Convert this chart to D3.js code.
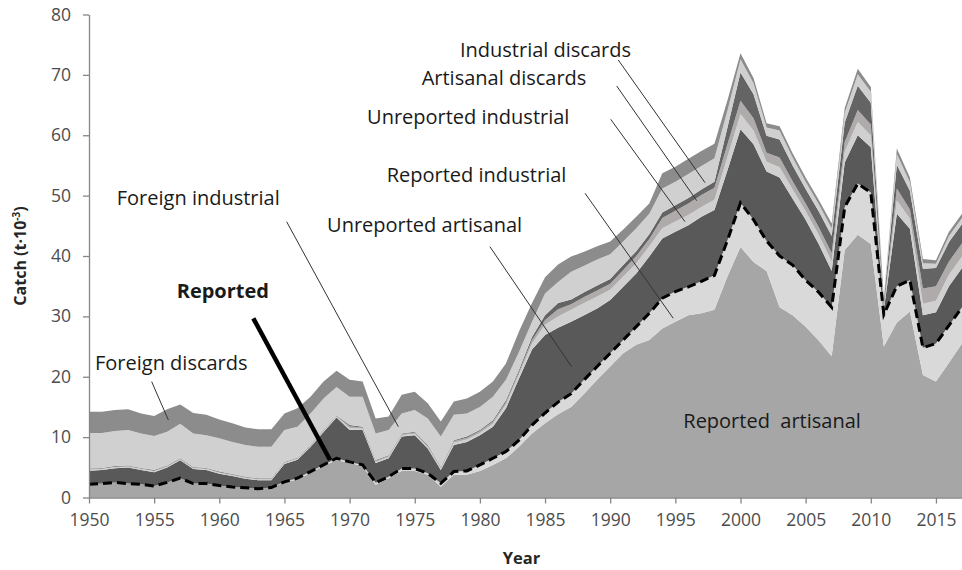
<!DOCTYPE html>
<html>
<head>
<meta charset="utf-8">
<script src="https://cdn.jsdelivr.net/npm/d3@7"></script>
<style>
  body { margin: 0; background: #fff; }
  text { font-family: 'Open Sans', Lato, sans-serif; }
</style>
</head>
<body>
<script>
// catch reconstruction 1950-2017, t x 10^3
var years = [1950,1951,1952,1953,1954,1955,1956,1957,1958,1959,
  1960,1961,1962,1963,1964,1965,1966,1967,1968,1969,
  1970,1971,1972,1973,1974,1975,1976,1977,1978,1979,
  1980,1981,1982,1983,1984,1985,1986,1987,1988,1989,
  1990,1991,1992,1993,1994,1995,1996,1997,1998,1999,
  2000,2001,2002,2003,2004,2005,2006,2007,2008,2009,
  2010,2011,2012,2013,2014,2015,2016,2017];

var reportedArtisanal = [2.2,2.3,2.5,2.3,2.2,1.9,2.5,3.2,2.3,2.3,
  2.0,1.75,1.6,1.45,1.65,2.5,3.0,4.1,5.2,6.2,
  5.7,5.2,2.1,3.2,4.4,4.4,3.75,1.8,3.75,3.75,
  4.4,5.4,6.5,8.4,10.6,12.3,13.8,15.0,17.2,19.5,
  21.7,23.9,25.3,26.1,28.0,29.1,30.2,30.5,31.1,36.6,
  41.5,39.0,37.5,31.5,30.2,28.3,26.0,23.4,41.0,43.5,
  42.0,25.0,29.0,30.8,20.3,19.2,22.3,25.5];

var reportedIndustrial = [0,0,0,0,0,0,0,0,0,0,
  0,0,0,0,0,0.1,0.2,0.2,0.2,0.3,
  0.2,0.2,0.35,0.25,0.4,0.4,0.25,0.55,0.55,0.65,
  1.0,1.1,1.1,1.1,1.4,1.7,2.0,2.2,2.3,2.2,
  2.2,2.2,3.0,4.4,5.0,5.0,4.7,5.3,5.7,6.0,
  7.3,7.0,5.0,8.5,8.3,7.7,8.0,8.1,7.1,8.5,
  8.5,5.3,6.0,5.2,4.5,6.3,6.2,6.0];

var unreportedArtisanal = [2.25,2.25,2.35,2.65,2.35,2.3,2.45,2.95,2.4,2.25,
  1.95,1.8,1.5,1.4,1.2,2.95,3.05,4.05,5.45,6.75,
  5.3,5.8,3.25,3.05,5.3,5.5,4.1,2.2,4.4,4.8,
  4.9,5.2,7.2,10.2,12.5,12.9,12.3,11.9,10.7,9.6,
  8.8,8.8,8.8,9.4,9.9,9.9,10.2,10.7,10.8,11.6,
  12.2,12.5,11.5,13.0,11.0,10.0,8.0,6.0,7.4,8.0,
  7.5,0.7,12.0,8.5,5.4,5.2,6.5,6.5];

var unreportedIndustrial = [0.15,0.15,0.15,0.15,0.15,0.15,0.15,0.15,0.15,0.15,
  0.15,0.15,0.15,0.15,0.15,0.15,0.15,0.15,0.15,0.15,
  0.3,0.2,0.2,0.2,0.2,0.25,0.25,0.25,0.35,0.4,
  0.4,0.5,0.6,0.7,1.0,1.7,1.9,2.0,2.0,2.0,
  1.7,1.7,1.7,1.7,1.7,1.7,1.7,1.6,1.7,2.2,
  2.5,2.3,1.6,1.7,1.5,1.4,1.5,1.6,1.8,2.2,
  2.0,0.4,2.2,1.7,1.9,1.9,1.9,1.9];

var artisanalDiscards = [0.1,0.1,0.1,0.1,0.1,0.1,0.1,0.1,0.1,0.1,
  0.1,0.1,0.1,0.1,0.1,0.1,0.1,0.1,0.1,0.1,
  0.3,0.2,0.2,0.2,0.2,0.2,0.2,0.2,0.3,0.3,
  0.3,0.4,0.4,0.4,0.6,0.8,1.2,0.9,1.0,1.0,
  1.0,1.1,1.2,1.2,1.7,1.8,1.9,2.0,2.0,2.1,
  2.2,2.0,1.5,1.6,1.4,1.3,1.3,1.4,1.6,2.0,
  1.8,0.4,2.0,1.5,2.5,2.4,2.2,2.2];

var industrialDiscards = [0.1,0.1,0.1,0.1,0.1,0.1,0.1,0.1,0.1,0.1,
  0.1,0.1,0.1,0.1,0.1,0.1,0.1,0.1,0.1,0.1,
  0.2,0.1,0.1,0.1,0.1,0.15,0.15,0.1,0.15,0.2,
  0.2,0.2,0.3,0.3,0.5,0.8,1.0,0.8,0.8,0.8,
  0.8,0.8,0.8,0.8,0.9,0.9,0.9,0.9,1.0,2.8,
  4.7,4.0,2.8,3.0,2.6,2.4,2.6,2.8,3.2,4.0,
  3.6,0.7,3.9,3.1,3.3,3.0,3.2,3.2];

var foreignIndustrial = [5.9,5.8,5.8,5.9,5.7,5.65,5.6,5.7,5.55,5.4,
  5.5,5.3,5.25,5.2,5.2,5.3,5.1,5.2,5.2,4.7,
  4.7,5.0,4.4,4.2,3.3,3.6,4.4,5.0,4.2,3.8,
  3.8,3.9,3.4,3.0,2.5,3.6,3.5,4.6,4.4,4.3,
  4.1,3.9,3.8,3.4,4.0,3.9,4.0,3.9,3.9,2.8,
  2.2,1.8,1.4,1.5,1.3,1.2,1.2,1.3,1.6,1.9,
  1.8,0.3,1.8,1.4,0.9,0.7,1.0,1.0];

var foreignDiscards = [3.5,3.5,3.5,3.4,3.3,3.3,3.7,3.2,3.4,3.4,
  3.1,3.1,2.9,2.9,2.9,2.7,3.1,2.8,2.8,2.7,
  2.8,2.5,2.5,2.2,3.1,3.0,2.5,2.5,2.2,2.5,
  2.5,2.5,2.7,3.4,3.1,2.7,2.9,2.5,2.3,2.2,
  2.1,2.0,1.9,1.7,2.5,2.5,2.5,2.5,2.4,1.7,
  1.0,0.9,0.7,0.7,0.7,0.7,0.7,0.8,0.8,0.9,
  0.8,0.2,0.9,0.8,0.7,0.6,0.7,0.7];

var xTicks = [1950,1955,1960,1965,1970,1975,1980,1985,1990,1995,2000,2005,2010,2015];
var yTicks = [0,10,20,30,40,50,60,70,80];

// labels placed in data units (year, catch)
var labelText = ['Industrial discards','Artisanal discards','Unreported industrial','Reported industrial',
  'Unreported artisanal','Foreign industrial','Reported','Foreign discards','Reported  artisanal'];
var labelYear = [1978.47,1975.53,1971.34,1972.85,1968.27,1952.13,1956.73,1950.46,1995.61];
var labelValue = [73.0,68.3,61.9,52.3,44.0,48.4,33.0,21.1,11.46];
var labelBold = [false,false,false,false,false,false,true,false,false];

// leader lines: year1, value1, year2, value2
var pointers = [
  [1990.62,72.46,1997.28,52.14],
  [1990.50,68.16,1996.64,49.16],
  [1990.04,62.64,1995.74,45.68],
  [1988.07,50.39,1994.84,29.68],
  [1980.77,41.54,1987.04,21.66],
  [1965.17,45.68,1973.74,11.73],
  [1954.81,19.18,1956.09,12.84]
];
var reportedPointer = [1962.61,29.68,1968.50,6.21];

var keys = ['ra','ri','ua','ui','ad','id','fi','fd'];
var colors = {ra:'#a6a6a6', ri:'#d9d9d9', ua:'#595959', ui:'#d0d0d0',
  ad:'#afabab', id:'#646464', fi:'#d0d0d0', fd:'#8c8c8c'};

var table = years.map(function(y, i){
  return {year: y, ra: reportedArtisanal[i], ri: reportedIndustrial[i],
    ua: unreportedArtisanal[i], ui: unreportedIndustrial[i], ad: artisanalDiscards[i],
    id: industrialDiscards[i], fi: foreignIndustrial[i], fd: foreignDiscards[i]};
});

var margin = {top: 14.5, right: 0, bottom: 72.5, left: 89},
  width = 962 - margin.left - margin.right,
  height = 570 - margin.top - margin.bottom;

var svg = d3.select("body").append("svg")
  .attr("width", 962)
  .attr("height", 570);

var g = svg.append("g")
  .attr("transform", "translate(" + margin.left + "," + margin.top + ")");

var xScale = d3.scaleLinear().domain([1950, 2017]).range([0, width]);
var yScale = d3.scaleLinear().domain([0, 80]).range([height, 0]);

var series = d3.stack().keys(keys)(table);

var area = d3.area()
  .x(function(d){ return xScale(d.data.year); })
  .y0(function(d){ return yScale(d[0]); })
  .y1(function(d){ return yScale(d[1]); });

g.selectAll('.layer')
  .data(series)
  .enter().append('path')
  .attr('class', 'layer')
  .attr('d', area)
  .attr('fill', function(d){ return colors[d.key]; });

// reported total = reported artisanal + reported industrial
var reportedLine = d3.line()
  .x(function(d){ return xScale(d.year); })
  .y(function(d){ return yScale(d.ra + d.ri); });

g.append('path')
  .datum(table)
  .attr('d', reportedLine)
  .attr('fill', 'none')
  .attr('stroke', '#000')
  .attr('stroke-width', 3)
  .attr('stroke-dasharray', '9,5');

// axes
var xAxis = g.append('g')
  .attr('transform', 'translate(0,' + height + ')')
  .call(d3.axisBottom(xScale).tickValues(xTicks).tickFormat(d3.format('d'))
    .tickSize(6).tickSizeOuter(0).tickPadding(10));

var yAxis = g.append('g')
  .call(d3.axisLeft(yScale).tickValues(yTicks).tickSize(6).tickSizeOuter(0).tickPadding(12));

[xAxis, yAxis].forEach(function(ax){
  ax.select('.domain').attr('stroke', '#868686').attr('stroke-width', 1.3);
  ax.selectAll('.tick line').attr('stroke', '#868686').attr('stroke-width', 1.3);
  ax.selectAll('.tick text')
    .attr('fill', '#4d4d4d')
    .style('font-family', "'Open Sans', sans-serif")
    .style('font-size', '17.5px');
});

svg.append('text')
  .text('Year')
  .attr('x', margin.left + width / 2 - 4)
  .attr('y', 564)
  .style('text-anchor', 'middle')
  .style('font-weight', 'bold')
  .style('font-size', '16.5px')
  .attr('fill', '#262626');

var ytitle = svg.append('text')
  .attr('transform', 'translate(26,256) rotate(-90)')
  .style('text-anchor', 'middle')
  .style('font-weight', 'bold')
  .style('font-size', '16px')
  .attr('fill', '#262626');
ytitle.append('tspan').text('Catch (t\u00b710');
ytitle.append('tspan').text('-3').attr('dy', -6).style('font-size', '10px');
ytitle.append('tspan').text(')').attr('dy', 6);

// leader lines
g.selectAll('.pointer')
  .data(pointers)
  .enter().append('line')
  .attr('class', 'pointer')
  .attr('x1', function(d){ return xScale(d[0]); })
  .attr('y1', function(d){ return yScale(d[1]); })
  .attr('x2', function(d){ return xScale(d[2]); })
  .attr('y2', function(d){ return yScale(d[3]); })
  .attr('stroke', '#333')
  .attr('stroke-width', 1);

g.append('line')
  .attr('x1', xScale(reportedPointer[0]))
  .attr('y1', yScale(reportedPointer[1]))
  .attr('x2', xScale(reportedPointer[2]))
  .attr('y2', yScale(reportedPointer[3]))
  .attr('stroke', '#000')
  .attr('stroke-width', 4.5);

g.selectAll('.label')
  .data(labelText)
  .enter().append('text')
  .attr('class', 'label')
  .text(function(d){ return d; })
  .attr('x', function(d, i){ return xScale(labelYear[i]); })
  .attr('y', function(d, i){ return yScale(labelValue[i]); })
  .style('white-space', 'pre')
  .style('font-size', '20px')
  .style('font-weight', function(d, i){ return labelBold[i] ? 'bold' : 'normal'; })
  .attr('fill', '#1a1a1a');
</script>
</body>
</html>
